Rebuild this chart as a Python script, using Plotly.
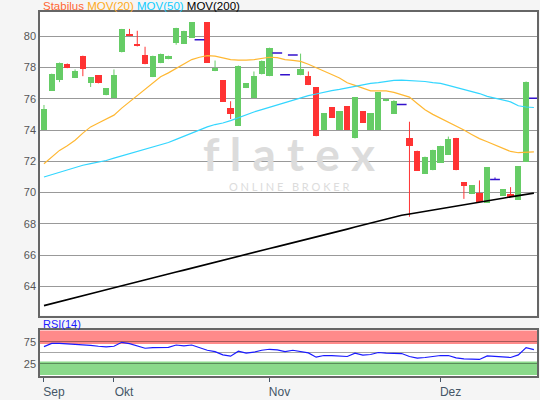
import plotly.graph_objects as go

# Daily OHLC for Stabilus, one entry per trading session
opens = [74.00, 76.50, 77.19, 78.25, 77.32, 78.75, 77.00, 77.49, 76.22, 76.05,
         78.96, 80.15, 79.51, 78.82, 77.38, 78.27, 78.52, 79.58, 79.51, 79.90,
         79.77, 80.90, 77.76, 77.17, 75.40, 74.28, 76.68, 76.05, 77.55, 77.44,
         78.92, 77.53, 78.79, 77.50, 77.42, 76.73, 74.00, 75.46, 74.00, 75.53,
         73.46, 75.21, 74.00, 74.00, 75.84, 75.04, 75.63, 73.50, 72.68, 71.20,
         71.43, 71.90, 72.42, 73.50, 70.65, 69.91, 70.00, 69.34, 70.84, 69.79,
         69.91, 69.54, 71.96, 76.03]
highs = [75.60, 77.60, 78.31, 78.25, 77.87, 78.75, 77.36, 77.49, 76.66, 77.87,
         80.46, 80.46, 80.34, 79.32, 78.75, 78.88, 78.75, 80.53, 80.34, 80.90,
         79.77, 80.90, 78.44, 77.17, 75.84, 78.12, 76.98, 77.74, 78.44, 79.26,
         78.92, 77.53, 78.79, 78.88, 77.74, 76.73, 75.08, 75.46, 75.21, 75.53,
         76.10, 75.21, 75.08, 76.41, 75.99, 75.90, 75.63, 74.53, 72.68, 72.30,
         72.74, 72.99, 73.58, 73.50, 70.65, 70.48, 70.78, 71.62, 70.97, 70.21,
         70.35, 71.68, 77.10, 76.03]
lows = [74.00, 76.50, 77.06, 77.95, 77.32, 77.44, 76.75, 76.98, 76.22, 76.05,
        78.96, 80.00, 79.34, 78.20, 77.38, 78.27, 78.52, 79.45, 79.51, 79.90,
        79.77, 78.31, 77.76, 75.80, 74.70, 74.28, 76.68, 76.05, 77.55, 77.44,
        78.92, 77.53, 78.79, 77.50, 76.87, 73.60, 74.00, 74.78, 74.00, 74.00,
        73.46, 74.47, 74.00, 74.00, 75.84, 75.04, 75.63, 68.46, 71.41, 71.20,
        71.43, 71.90, 72.42, 71.43, 69.60, 69.91, 69.41, 69.34, 70.84, 69.79,
        69.70, 69.54, 71.96, 76.03]
closes = [75.33, 77.60, 78.31, 77.95, 77.80, 77.89, 77.36, 76.98, 76.66, 77.49,
          80.46, 80.00, 79.34, 78.20, 78.75, 78.88, 78.75, 80.53, 80.34, 80.90,
          79.77, 78.31, 77.97, 75.80, 75.02, 78.12, 76.98, 77.42, 78.44, 79.26,
          78.92, 77.53, 78.79, 77.87, 76.87, 73.60, 75.08, 74.78, 75.21, 74.00,
          76.10, 74.47, 75.08, 76.41, 75.99, 75.84, 75.63, 72.99, 71.41, 72.30,
          72.74, 72.99, 73.44, 71.43, 70.42, 70.48, 69.41, 71.62, 70.84, 70.21,
          69.70, 71.68, 77.10, 76.03]

mov20 = [71.85, 72.30, 72.70, 73.00, 73.35, 73.80, 74.20, 74.45, 74.70, 74.95,
         75.40, 75.80, 76.20, 76.65, 77.00, 77.40, 77.65, 77.95, 78.25, 78.50,
         78.65, 78.75, 78.72, 78.60, 78.50, 78.47, 78.46, 78.50, 78.56, 78.65,
         78.62, 78.50, 78.45, 78.38, 78.20, 78.00, 77.78, 77.55, 77.32, 77.02,
         76.85, 76.70, 76.50, 76.50, 76.50, 76.40, 76.25, 76.10, 75.70, 75.30,
         75.00, 74.75, 74.55, 74.25, 74.00, 73.72, 73.45, 73.25, 73.06, 72.85,
         72.63, 72.55, 72.57, 72.60]
mov50 = [71.00, 71.15, 71.30, 71.45, 71.60, 71.75, 71.85, 71.95, 72.05, 72.20,
         72.35, 72.50, 72.65, 72.80, 72.90, 73.05, 73.20, 73.40, 73.60, 73.85,
         74.00, 74.20, 74.35, 74.45, 74.60, 74.80, 75.00, 75.15, 75.30, 75.45,
         75.60, 75.75, 75.90, 76.05, 76.20, 76.30, 76.42, 76.52, 76.60, 76.70,
         76.80, 76.88, 76.98, 77.03, 77.10, 77.17, 77.19, 77.17, 77.14, 77.10,
         77.03, 76.98, 76.85, 76.72, 76.60, 76.45, 76.33, 76.15, 76.03, 75.95,
         75.80, 75.55, 75.47, 75.44]
mov200 = [62.78, 62.90, 63.03, 63.16, 63.30, 63.42, 63.55, 63.67, 63.80, 63.93,
          64.05, 64.18, 64.30, 64.43, 64.55, 64.68, 64.80, 64.93, 65.05, 65.18,
          65.30, 65.43, 65.55, 65.68, 65.80, 65.93, 66.05, 66.18, 66.30, 66.43,
          66.55, 66.67, 66.79, 66.91, 67.03, 67.15, 67.28, 67.41, 67.54, 67.67,
          67.80, 67.93, 68.06, 68.20, 68.32, 68.44, 68.55, 68.64, 68.72, 68.81,
          68.90, 68.98, 69.06, 69.14, 69.22, 69.30, 69.39, 69.47, 69.56, 69.64,
          69.73, 69.81, 69.89, 69.97]

rsi14 = [63.8, 71.2, 71.2, 70.5, 68.3, 68.3, 66.8, 64.6, 63.1, 64.6,
         73.5, 70.5, 65.3, 60.1, 61.6, 61.6, 62.3, 67.5, 65.3, 67.5,
         61.6, 55.6, 52.6, 45.2, 42.3, 53.4, 49.0, 51.2, 55.6, 57.8,
         56.3, 52.6, 55.6, 53.4, 49.7, 40.0, 43.7, 43.7, 43.0, 41.5,
         49.0, 44.5, 46.0, 50.5, 49.0, 49.0, 48.2, 41.5, 37.8, 39.3,
         41.5, 43.7, 43.7, 38.5, 36.3, 36.3, 34.8, 43.0, 41.5, 39.3,
         39.3, 45.2, 61.6, 57.1]

month_tick_idx = [0, 9, 29, 51]
month_labels = ["Sep", "Okt", "Nov", "Dez"]

UP = "#66cc66"
DOWN = "#ff3333"
FLAT = "#3311cc"

idx = list(range(len(closes)))

fig = go.Figure()

# wicks, drawn beneath the bodies
def wick_trace(sel, color):
    xs, ys = [], []
    for i in sel:
        xs += [i, i, None]
        ys += [lows[i], highs[i], None]
    return go.Scatter(x=xs, y=ys, mode="lines", line=dict(color=color, width=1),
                      hoverinfo="skip", showlegend=False, xaxis="x", yaxis="y")

up_idx = [i for i in idx if closes[i] > opens[i]]
dn_idx = [i for i in idx if closes[i] < opens[i]]
flat_idx = [i for i in idx if closes[i] == opens[i]]

fig.add_trace(wick_trace(up_idx, UP))
fig.add_trace(wick_trace(dn_idx, DOWN))
fig.add_trace(wick_trace(flat_idx, FLAT))

# candle bodies
body_idx = up_idx + dn_idx
fig.add_trace(go.Bar(
    x=body_idx,
    base=[min(opens[i], closes[i]) for i in body_idx],
    y=[abs(closes[i] - opens[i]) for i in body_idx],
    width=0.8,
    marker=dict(color=[UP if closes[i] > opens[i] else DOWN for i in body_idx],
                line=dict(width=0)),
    showlegend=False, xaxis="x", yaxis="y",
))

# unchanged sessions as a short dash
fig.add_trace(go.Scatter(
    x=flat_idx, y=[closes[i] for i in flat_idx], mode="markers",
    marker=dict(symbol="line-ew", size=7, line=dict(color=FLAT, width=1.5)),
    showlegend=False, xaxis="x", yaxis="y",
))

# moving averages
fig.add_trace(go.Scatter(x=idx, y=mov20, mode="lines",
                         line=dict(color="#ffb833", width=1.2),
                         showlegend=False, xaxis="x", yaxis="y"))
fig.add_trace(go.Scatter(x=idx, y=mov50, mode="lines",
                         line=dict(color="#33d6ff", width=1.2),
                         showlegend=False, xaxis="x", yaxis="y"))
fig.add_trace(go.Scatter(x=idx, y=mov200, mode="lines",
                         line=dict(color="#000000", width=1.6),
                         showlegend=False, xaxis="x", yaxis="y"))

# RSI panel
fig.add_trace(go.Scatter(x=idx, y=rsi14, mode="lines",
                         line=dict(color="#1a1aff", width=1.2),
                         showlegend=False, xaxis="x2", yaxis="y2"))

xr = [-0.51, 63.4]
frame = dict(showline=True, mirror=True, linecolor="#666666", linewidth=1.5)

fig.update_layout(
    width=540, height=400,
    margin=dict(l=40, r=1, t=12, b=21),
    paper_bgcolor="#f5f5f5",
    plot_bgcolor="#ffffff",
    font=dict(family="Liberation Sans, Arial, sans-serif", size=11, color="#555555"),
    xaxis=dict(domain=[0, 1], range=xr, anchor="y", showticklabels=False,
               showgrid=False, zeroline=False, ticks="", **frame),
    yaxis=dict(domain=[0.1662, 1], range=[62.15, 81.54], anchor="x",
               tickvals=[64, 66, 68, 70, 72, 74, 76, 78, 80],
               showgrid=True, gridcolor="#999999", gridwidth=1,
               zeroline=False, ticks="", **frame),
    xaxis2=dict(domain=[0, 1], range=xr, anchor="y2",
                tickvals=month_tick_idx, ticktext=month_labels,
                ticks="outside", ticklen=4, tickcolor="#445566",
                ticklabelshift=10,
                tickfont=dict(size=12, color="#445566"),
                showgrid=False, zeroline=False, **frame),
    yaxis2=dict(domain=[0, 0.1272], range=[-2.5, 102], anchor="x2",
                tickvals=[25, 50, 75], ticktext=["25", "", "75"],
                showgrid=True, gridcolor="rgba(0,0,0,0.35)", gridwidth=1,
                zeroline=False, ticks="", **frame),
    bargap=0,
)

# overbought / oversold zones
fig.add_shape(type="rect", xref="x2 domain", yref="y2", x0=0, x1=1, y0=70, y1=100,
              fillcolor="#ff8a8a", line=dict(width=0), layer="below")
fig.add_shape(type="rect", xref="x2 domain", yref="y2", x0=0, x1=1, y0=0, y1=30,
              fillcolor="#8ad98a", line=dict(width=0), layer="below")

# header line with series names
fig.add_annotation(
    xref="paper", yref="paper", x=0.003, y=1.016, xanchor="left", yanchor="middle",
    showarrow=False, font=dict(size=11.5),
    text=("<span style='color:#ff6633'>Stabilus</span> "
          "<span style='color:#ffaa22'>MOV(20)</span> "
          "<span style='color:#11ccff'>MOV(50)</span> "
          "<span style='color:#000000'>MOV(200)</span>"),
)
fig.add_annotation(
    xref="paper", yref="paper", x=0.003, y=0.1417, xanchor="left", yanchor="middle",
    showarrow=False, font=dict(size=11, color="#1a1aff"), text="RSI(14)",
)

# broker watermark
fig.add_annotation(
    xref="paper", yref="paper", x=0.50, y=0.612, xanchor="center", yanchor="middle",
    showarrow=False,
    font=dict(size=46, color="#dcdcdc", family="Lato, sans-serif", weight="bold"),
    text="f l a t e x",
)
fig.add_annotation(
    xref="paper", yref="paper", x=0.50, y=0.52, xanchor="center", yanchor="middle",
    showarrow=False, font=dict(size=11, color="#dcdcdc", family="Lato, sans-serif"),
    text="O N L I N E &nbsp; B R O K E R",
)

fig.write_html("out.html")
